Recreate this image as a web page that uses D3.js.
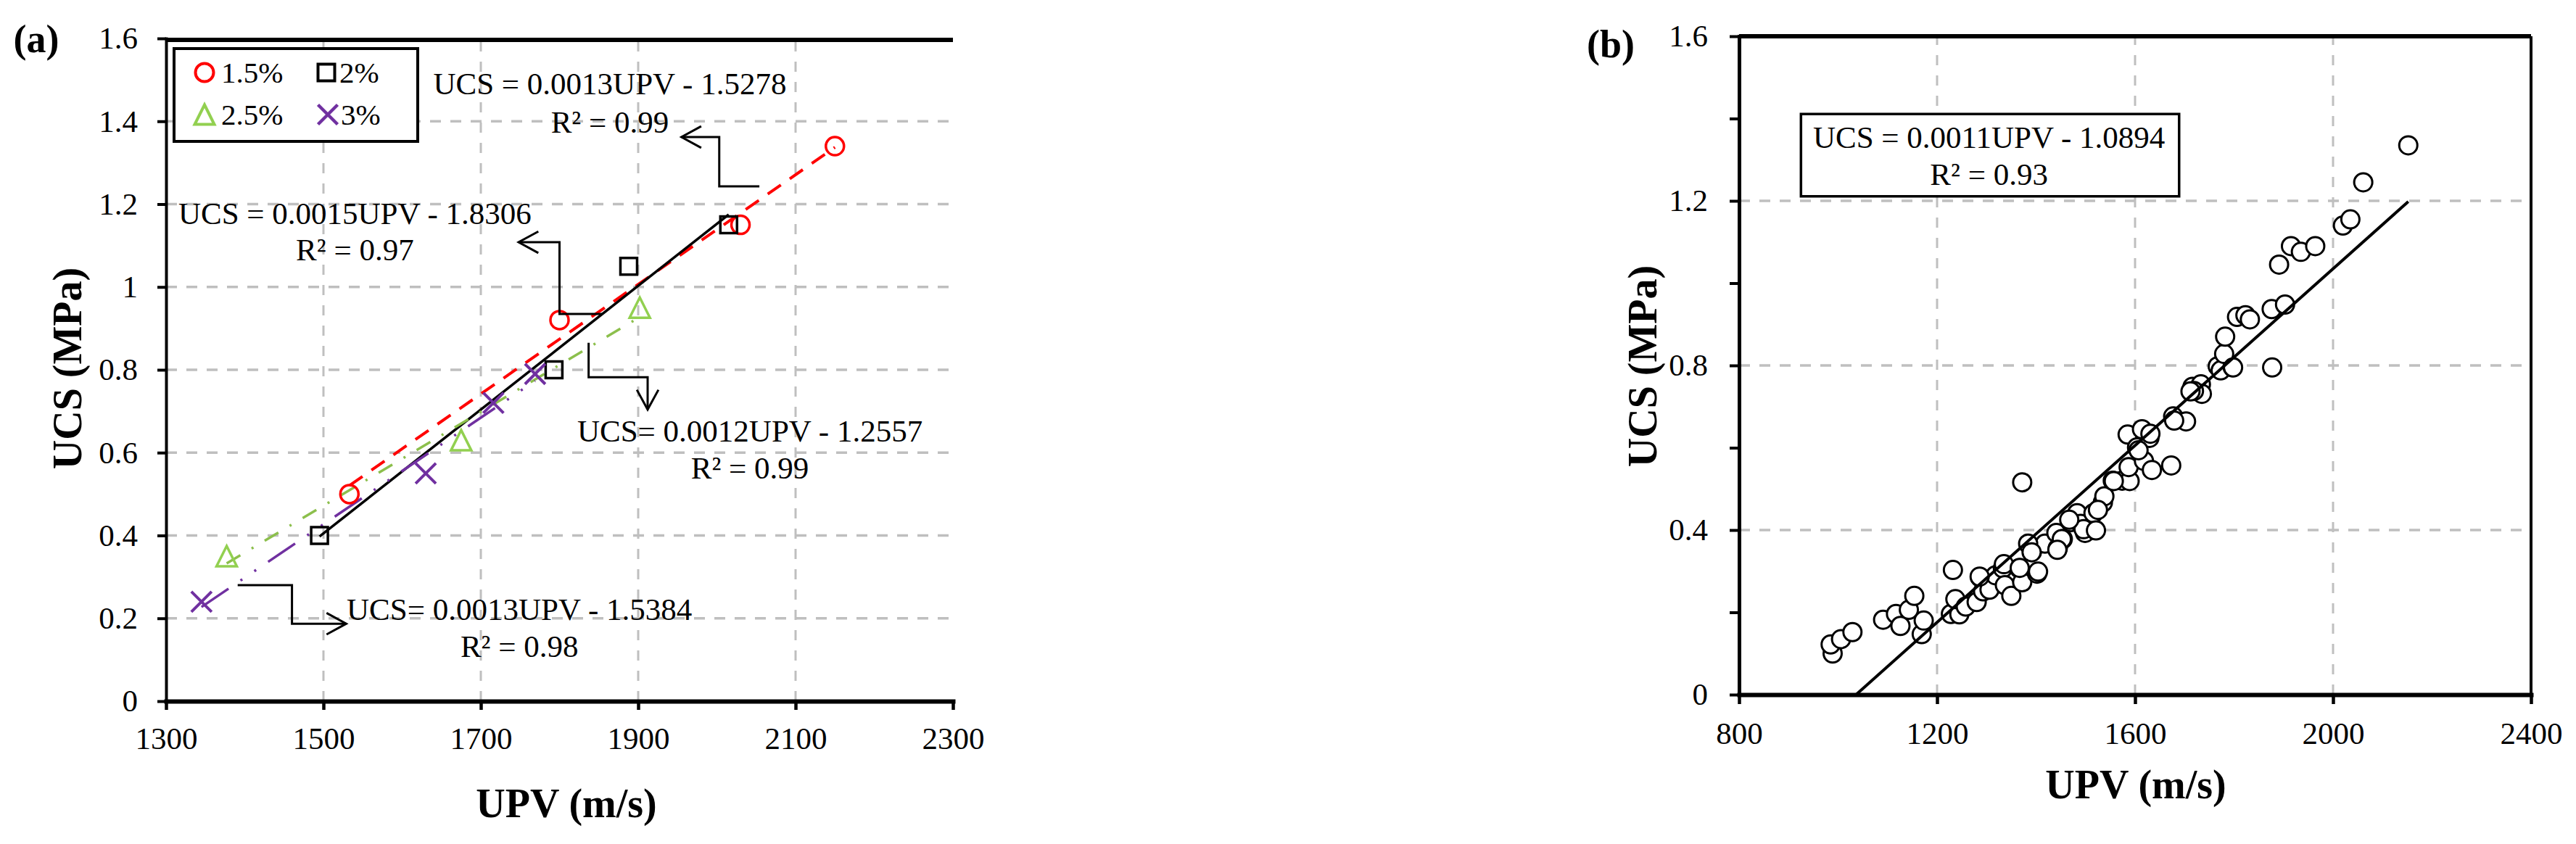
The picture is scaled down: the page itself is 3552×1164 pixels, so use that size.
<!DOCTYPE html>
<html>
<head>
<meta charset="utf-8">
<script src="https://cdn.jsdelivr.net/npm/d3@7"></script>
<style>
	body { margin: 0; background: #fff; }
	svg { display: block; background: #fff; }
	svg text { font-family: "Liberation Serif", "Times New Roman", serif; fill: #000; }
</style>
</head>
<body>
<svg id="chart" width="3552" height="1164"></svg>
<script>

// DATA
// (a) UPV (m/s) and UCS (MPa) per cement content
const upv15 = [1533, 1800, 2030, 2150];
const ucs15 = [0.50, 0.92, 1.15, 1.34];
const upv20 = [1495, 1793, 1888, 2015];
const ucs20 = [0.40, 0.80, 1.05, 1.15];
const upv25 = [1377, 1675, 1902];
const ucs25 = [0.35, 0.63, 0.95];
const upv30 = [1345, 1630, 1716, 1769];
const ucs30 = [0.24, 0.55, 0.72, 0.79];
const seriesNames = ["1.5%", "2%", "2.5%", "3%"];
const equationsA = [
	["UCS = 0.0013UPV - 1.5278", "R² = 0.99"],
	["UCS = 0.0015UPV - 1.8306", "R² = 0.97"],
	["UCS= 0.0012UPV - 1.2557", "R² = 0.99"],
	["UCS= 0.0013UPV - 1.5384", "R² = 0.98"]
];
// (b) all samples
const upvAll = [989, 985, 1006, 1029, 1091, 1117, 1126, 1143, 1154, 1169, 1173,
	1232, 1228, 1245, 1237, 1258, 1280, 1287, 1293, 1306, 1318, 1333, 1337, 1350,
	1366, 1372, 1335, 1392, 1402, 1418, 1384, 1441, 1444, 1454, 1470, 1483, 1490,
	1499, 1520, 1516, 1535, 1538, 1525, 1555, 1574, 1589, 1587, 1585, 1604, 1618,
	1629, 1614, 1631, 1634, 1673, 1677, 1703, 1372, 1716, 1733, 1735, 1719, 1767,
	1773, 1797, 1780, 1782, 1806, 1823, 1832, 1876, 1903, 1877, 1891, 1915, 1935,
	1964, 2020, 2035, 2061, 2152, 1286, 1404, 1391, 1496, 1467, 1452, 1443, 1521,
	1557, 1607, 1679, 1712, 1798, 1367];
const ucsAll = [0.100, 0.122, 0.135, 0.152, 0.182, 0.196, 0.167, 0.206, 0.240, 0.147, 0.180,
	0.303, 0.196, 0.195, 0.232, 0.214, 0.225, 0.285, 0.251, 0.255, 0.290, 0.307, 0.266, 0.240,
	0.307, 0.273, 0.317, 0.348, 0.294, 0.367, 0.367, 0.393, 0.356, 0.378, 0.419, 0.441, 0.415,
	0.393, 0.400, 0.441, 0.467, 0.482, 0.449, 0.520, 0.520, 0.519, 0.553, 0.632, 0.601, 0.568,
	0.624, 0.645, 0.634, 0.546, 0.557, 0.676, 0.664, 0.516, 0.748, 0.754, 0.731, 0.738, 0.798,
	0.788, 0.796, 0.828, 0.870, 0.918, 0.922, 0.912, 0.937, 0.948, 0.795, 1.045, 1.090, 1.076,
	1.090, 1.140, 1.155, 1.245, 1.335, 0.287, 0.299, 0.346, 0.402, 0.425, 0.378, 0.352, 0.399,
	0.519, 0.594, 0.666, 0.737, 0.795, 0.308];
const equationB = ["UCS = 0.0011UPV - 1.0894", "R² = 0.93"];
// ticks
const ticksXa = [1300, 1500, 1700, 1900, 2100, 2300];
const ticksYa = [0, 0.2, 0.4, 0.6, 0.8, 1, 1.2, 1.4, 1.6];
const ticksXb = [800, 1200, 1600, 2000, 2400];
const ticksYb = [0, 0.4, 0.8, 1.2, 1.6];
const minorYb = [0.2, 0.6, 1, 1.4];


// REFERENCES
const svg = d3.select("#chart");
const SERIF = '"Liberation Serif", "Times New Roman", serif';
const GRID = "#bfbfbf";


// HELPERS
// least squares line
function fitLine(xs, ys) {
	const mx = d3.mean(xs), my = d3.mean(ys);
	let sxy = 0, sxx = 0;
	xs.forEach((x, i) => { sxy += (x - mx) * (ys[i] - my); sxx += (x - mx) * (x - mx); });
	const b = sxy / sxx;
	return { b: b, a: my - b * mx };
}

// dashed grid, inner values only
function drawGrid(g, x, y, xs, ys) {
	const [x0, x1] = x.range(), [y0, y1] = y.range();
	g.selectAll(".gy").data(ys.slice(1, -1)).enter().append("line")
		.attr("x1", x0).attr("x2", x1).attr("y1", d => y(d)).attr("y2", d => y(d))
		.attr("stroke", GRID).attr("stroke-width", 3.5).attr("stroke-dasharray", "15,13");
	g.selectAll(".gx").data(xs.slice(1, -1)).enter().append("line")
		.attr("x1", d => x(d)).attr("x2", d => x(d)).attr("y1", y0).attr("y2", y1)
		.attr("stroke", GRID).attr("stroke-width", 3).attr("stroke-dasharray", "14,14");
}

function styleAxis(sel, domainW, tickW) {
	sel.attr("font-size", 43).attr("font-family", SERIF);
	sel.select(".domain").attr("stroke", "#000").attr("stroke-width", domainW).attr("stroke-linecap", "square");
	sel.selectAll(".tick line").attr("stroke", "#000").attr("stroke-width", tickW);
	sel.selectAll(".tick text").attr("fill", "#000");
}

// axis titles and panel letter
function drawTitles(letter, letterPos, xTitlePos, yTitlePos) {
	svg.append("text").attr("x", letterPos[0]).attr("y", letterPos[1])
		.attr("text-anchor", "middle").attr("font-size", 54).attr("font-weight", "bold").text(letter);
	svg.append("text").attr("x", xTitlePos[0]).attr("y", xTitlePos[1])
		.attr("text-anchor", "middle").attr("font-size", 56).attr("font-weight", "bold").text("UPV (m/s)");
	svg.append("text").attr("transform", "translate(" + yTitlePos[0] + "," + yTitlePos[1] + ") rotate(-90)")
		.attr("text-anchor", "middle").attr("font-size", 56).attr("font-weight", "bold").text("UCS (MPa)");
}

// marker shapes
function markerPath(shape, s) {
	const h = s / 2;
	if (shape === "square") return "M" + (-h) + "," + (-h) + "H" + h + "V" + h + "H" + (-h) + "Z";
	if (shape === "triangle") return "M0," + (-h) + "L" + h + "," + h + "L" + (-h) + "," + h + "Z";
	if (shape === "x") return "M" + (-h) + "," + (-h) + "L" + h + "," + h + "M" + h + "," + (-h) + "L" + (-h) + "," + h;
	return d3.symbol(d3.symbolCircle, Math.PI * h * h)();
}

// callout arrow with open head
function drawArrow(g, pts) {
	g.append("path").attr("d", d3.line()(pts)).attr("fill", "none")
		.attr("stroke", "#000").attr("stroke-width", 3);
	const [px, py] = pts[pts.length - 2], [tx, ty] = pts[pts.length - 1];
	const ang = Math.atan2(ty - py, tx - px), len = 31, spread = 0.5;
	const arms = [ang + Math.PI - spread, ang + Math.PI + spread]
		.map(a => [tx + len * Math.cos(a), ty + len * Math.sin(a)]);
	g.append("path").attr("d", d3.line()([arms[0], [tx, ty], arms[1]])).attr("fill", "none")
		.attr("stroke", "#000").attr("stroke-width", 3);
}


// PANEL (a)
function drawPanelA() {
	const x = d3.scaleLinear().domain([1300, 2300]).range([229, 1314]);
	const y = d3.scaleLinear().domain([0, 1.6]).range([967, 53]);
	const g = svg.append("g");
	drawGrid(g, x, y, ticksXa, ticksYa);

	// series
	const series = [
		{ xs: upv15, ys: ucs15, color: "#ff0000", line: "#ff0000", dash: "22,15", width: 4, shape: "circle" },
		{ xs: upv20, ys: ucs20, color: "#000000", line: "#000000", dash: null, width: 3.5, shape: "square" },
		{ xs: upv25, ys: ucs25, color: "#92d050", line: "#8cbf4c", dash: "22,18,3,18", width: 3.5, shape: "triangle" },
		{ xs: upv30, ys: ucs30, color: "#7030a0", line: "#7030a0", dash: "45,20,3,20,3,20", width: 3.5, shape: "x" }
	];
	const line = d3.line().x(d => x(d[0])).y(d => y(d[1]));
	// trend lines
	series.forEach(s => {
		const f = fitLine(s.xs, s.ys);
		const ends = d3.extent(s.xs).map(v => [v, f.a + f.b * v]);
		g.append("path").attr("d", line(ends)).attr("fill", "none")
			.attr("stroke", s.line).attr("stroke-width", s.width)
			.attr("stroke-dasharray", s.dash);
	});
	// markers
	series.forEach(s => {
		const size = s.shape === "square" ? 23 : (s.shape === "circle" ? 25 : 28);
		g.selectAll(null).data(s.xs.map((v, i) => [v, s.ys[i]])).enter().append("path")
			.attr("transform", d => "translate(" + x(d[0]) + "," + y(d[1]) + ")")
			.attr("d", markerPath(s.shape, size)).attr("fill", "none")
			.attr("stroke", s.color).attr("stroke-width", s.shape === "x" ? 4 : 3.5);
	});

	// axes
	const xAxis = d3.axisBottom(x).tickValues(ticksXa).tickSize(12).tickSizeOuter(0).tickPadding(23).tickFormat(d => String(d));
	const yAxis = d3.axisLeft(y).tickValues(ticksYa).tickSize(12).tickSizeOuter(0).tickPadding(27).tickFormat(d => String(d));
	styleAxis(svg.append("g").attr("transform", "translate(0," + y(0) + ")").call(xAxis), 6, 4.5);
	styleAxis(svg.append("g").attr("transform", "translate(" + x(1300) + ",0)").call(yAxis), 4, 4);
	// top border
	svg.append("line").attr("x1", x(1300)).attr("x2", x(2300)).attr("y1", y(1.6) + 2).attr("y2", y(1.6) + 2)
		.attr("stroke", "#000").attr("stroke-width", 6);

	// legend
	const lg = svg.append("g").attr("transform", "translate(240,67)");
	lg.append("rect").attr("width", 336).attr("height", 128).attr("fill", "#fff")
		.attr("stroke", "#000").attr("stroke-width", 4);
	const cells = [[42, 33], [210, 33], [42, 91], [212, 91]];
	series.forEach((s, i) => {
		const size = s.shape === "square" ? 23 : (s.shape === "circle" ? 25 : 27);
		lg.append("path").attr("transform", "translate(" + cells[i][0] + "," + cells[i][1] + ")")
			.attr("d", markerPath(s.shape, size)).attr("fill", "none")
			.attr("stroke", s.color).attr("stroke-width", s.shape === "x" ? 4.5 : 4);
		lg.append("text").attr("x", cells[i][0] + (i % 2 ? 18 : 23)).attr("y", cells[i][1])
			.attr("dy", "0.35em").attr("font-size", 41).text(seriesNames[i]);
	});

	// equations with callouts: [centre UPV, baseline UCS line 1, line 2]
	const eqPos = [[1864, 1.465, 1.372], [1540, 1.152, 1.064], [2042, 0.627, 0.537], [1749, 0.196, 0.107]];
	const callouts = [
		[[2054, 1.243], [2003, 1.243], [2003, 1.362], [1955, 1.362]],
		[[1854, 0.935], [1800, 0.935], [1800, 1.108], [1748, 1.108]],
		[[1837, 0.865], [1837, 0.782], [1912, 0.782], [1912, 0.704]],
		[[1391, 0.280], [1460, 0.280], [1460, 0.187], [1529, 0.187]]
	];
	equationsA.forEach((eq, i) => {
		eq.forEach((t, j) => {
			svg.append("text").attr("x", x(eqPos[i][0])).attr("y", y(eqPos[i][j + 1]))
				.attr("text-anchor", "middle").attr("font-size", 43).text(t);
		});
		drawArrow(svg, callouts[i].map(p => [x(p[0]), y(p[1])]));
	});

	drawTitles("(a)", [50, 72], [781, 1127], [112, 508]);
}


// PANEL (b)
function drawPanelB() {
	const x = d3.scaleLinear().domain([800, 2400]).range([2398, 3490]);
	const y = d3.scaleLinear().domain([0, 1.6]).range([958, 50]);
	const g = svg.append("g");
	drawGrid(g, x, y, ticksXb, ticksYb);

	// clip for trend line
	svg.append("clipPath").attr("id", "clipB").append("rect")
		.attr("x", x(800)).attr("y", y(1.6)).attr("width", x(2400) - x(800)).attr("height", y(0) - y(1.6));

	// markers
	g.selectAll("circle").data(upvAll.map((v, i) => [v, ucsAll[i]])).enter().append("circle")
		.attr("cx", d => x(d[0])).attr("cy", d => y(d[1])).attr("r", 12.5)
		.attr("fill", "#fff").attr("stroke", "#000").attr("stroke-width", 3);

	// trend line
	const f = fitLine(upvAll, ucsAll);
	const ends = d3.extent(upvAll).map(v => [v, f.a + f.b * v]);
	g.append("path").attr("clip-path", "url(#clipB)")
		.attr("d", d3.line().x(d => x(d[0])).y(d => y(d[1]))(ends))
		.attr("fill", "none").attr("stroke", "#000").attr("stroke-width", 4);

	// axes
	const xAxis = d3.axisBottom(x).tickValues(ticksXb).tickSize(13).tickSizeOuter(0).tickPadding(24).tickFormat(d => String(d));
	const yAxis = d3.axisLeft(y).tickValues(ticksYb).tickSize(13).tickSizeOuter(0).tickPadding(30).tickFormat(d => String(d));
	const yMinor = d3.axisLeft(y).tickValues(minorYb).tickSize(13).tickFormat("");
	styleAxis(svg.append("g").attr("transform", "translate(0," + y(0) + ")").call(xAxis), 6, 4.5);
	styleAxis(svg.append("g").attr("transform", "translate(" + x(800) + ",0)").call(yAxis), 5, 4);
	const minor = svg.append("g").attr("transform", "translate(" + x(800) + ",0)").call(yMinor);
	minor.select(".domain").remove();
	minor.selectAll(".tick line").attr("stroke", "#000").attr("stroke-width", 4);
	// top and right border
	svg.append("line").attr("x1", x(800)).attr("x2", x(2400)).attr("y1", y(1.6)).attr("y2", y(1.6))
		.attr("stroke", "#000").attr("stroke-width", 6);
	svg.append("line").attr("x1", x(2400)).attr("x2", x(2400)).attr("y1", y(1.6)).attr("y2", y(0))
		.attr("stroke", "#000").attr("stroke-width", 4);

	// equation box
	svg.append("rect").attr("x", x(925)).attr("y", y(1.411))
		.attr("width", x(1689) - x(925)).attr("height", y(1.211) - y(1.411))
		.attr("fill", "#fff").attr("stroke", "#000").attr("stroke-width", 3.5);
	equationB.forEach((t, j) => {
		svg.append("text").attr("x", x(1305)).attr("y", y([1.329, 1.239][j]))
			.attr("text-anchor", "middle").attr("font-size", 43).text(t);
	});

	drawTitles("(b)", [2221, 79], [2945, 1101], [2284, 505]);
}


// MAIN
document.addEventListener('DOMContentLoaded', () => {
	drawPanelA();
	drawPanelB();
});
</script>
</body>
</html>
